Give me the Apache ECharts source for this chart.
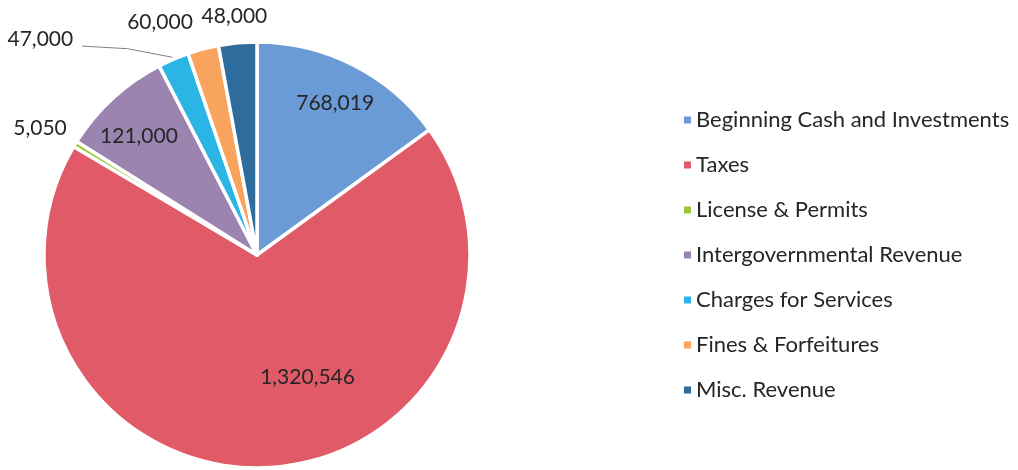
<!DOCTYPE html>
<html>
<head>
<meta charset="utf-8">
<script src="https://cdn.jsdelivr.net/npm/echarts@6/dist/echarts.min.js"></script>
<style>
  html, body { margin: 0; padding: 0; background: #fff; }
  #chart { width: 1018px; height: 470px; }
</style>
</head>
<body>
<div id="chart"></div>
<script>
const categories = ['Beginning Cash and Investments', 'Taxes', 'License & Permits',
  'Intergovernmental Revenue', 'Charges for Services', 'Fines & Forfeitures', 'Misc. Revenue'];
// amounts printed on the slices
const amounts = [768019, 1320546, 5050, 121000, 47000, 60000, 48000];
// share of the circle (%) each slice takes in the picture
// (the drawn slices are not proportional to the printed amounts)
const sliceShares = [15.0, 68.5, 0.45, 8.45, 2.35, 2.35, 2.9];
const colors = ['#6a9bd6', '#e05a67', '#9cc83d', '#9b84b0', '#2bb5e5', '#f8a45e', '#2d6c9c'];

const cx = 257, cy = 255, R = 213;
// label anchors: [angle clockwise from 12 o'clock, distance as a fraction of the radius]
const labelSpots = [[27.3, 0.80], [157.5, 0.62], [300.3, 1.18], [315.1, 0.785],
  [314.9, 1.436], [337.4, 1.185], [354.6, 1.127]];

function polar(deg, r) {
  const a = deg * Math.PI / 180;
  return [cx + Math.sin(a) * r, cy - Math.cos(a) * r];
}

const total = sliceShares.reduce((s, v) => s + v, 0);
const midAngles = [];
let acc = 0;
sliceShares.forEach(v => { midAngles.push((acc + v / 2) / total * 360); acc += v; });

const chart = echarts.init(document.getElementById('chart'));
chart.setOption({
  animation: false,
  color: colors,
  legend: {
    orient: 'vertical',
    left: 679,
    top: 104,
    icon: 'rect',
    itemWidth: 7,
    itemHeight: 7,
    itemGap: 23,
    itemStyle: { borderWidth: 0 },
    textStyle: { fontFamily: 'Lato', fontSize: 22, color: '#262626', lineHeight: 22 },
    data: categories
  },
  series: [{
    type: 'pie',
    center: [cx, cy],
    radius: R,
    startAngle: 90,
    clockwise: true,
    avoidLabelOverlap: false,
    itemStyle: { borderColor: '#fff', borderWidth: 3.5 },
    label: {
      show: true,
      position: 'outside',
      fontFamily: 'Lato',
      fontSize: 21,
      color: '#262626',
      formatter: p => amounts[p.dataIndex].toLocaleString('en-US')
    },
    labelLine: { show: false },
    emphasis: { disabled: true },
    labelLayout: function (p) {
      const s = labelSpots[p.dataIndex];
      const [x, y] = polar(s[0], s[1] * R);
      const out = { x: x, y: y, align: 'center', verticalAlign: 'middle' };
      if (p.dataIndex === 4) {
        const start = polar(midAngles[4], R + 2);
        const end = [x + p.labelRect.width / 2 + 9, y + 7];
        out.labelLinePoints = [start, [(start[0] + end[0]) / 2, (start[1] + end[1]) / 2 - 3], end];
      }
      return out;
    },
    data: categories.map((name, i) => ({
      name: name,
      value: sliceShares[i],
      labelLine: i === 4 ? { show: true, lineStyle: { color: '#808080', width: 1 } } : undefined
    }))
  }]
});
</script>
</body>
</html>
